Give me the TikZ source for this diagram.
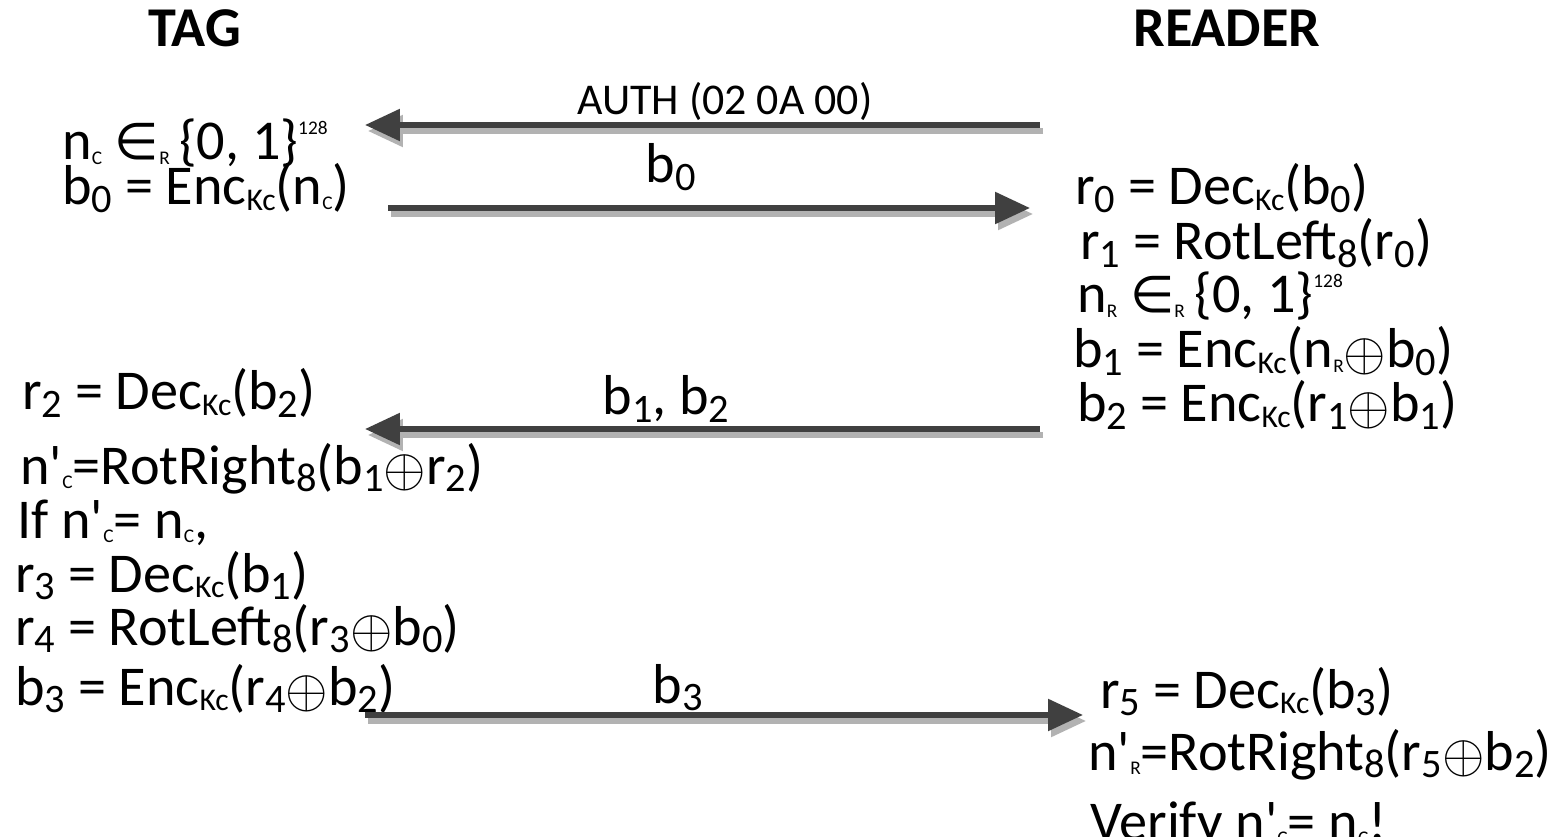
\documentclass[tikz,border=0pt]{standalone}
\usepackage{graphicx}
\usepackage{fontspec}
\setmainfont{Carlito}
\newfontfamily\symf{DejaVu Sans}
\usetikzlibrary{arrows.meta}
\newcommand\ds[1]{\raisebox{-0.14em}{\fontsize{23}{23}\selectfont #1}}
\newcommand\ks{\raisebox{-0.1em}{\fontsize{18}{18}\selectfont Kc}}
\newcommand\ts[1]{\raisebox{-0.08em}{\fontsize{11}{11}\selectfont #1}}
\newcommand\sups{\raisebox{0.45em}{\fontsize{11}{11}\selectfont 128}}
\newcommand\xor{\raisebox{-0.04em}{\fontsize{24.88}{25}\selectfont\scalebox{1.25}{$\oplus$}}}
\newcommand\elem{{\fontsize{29}{29}\symf ∈}}
\newcommand\ap{\textquotesingle}
\begin{document}
\begin{tikzpicture}[x=0.02cm,y=-0.02cm,
  txt/.style={anchor=base west,inner sep=0pt,font=\fontsize{32}{36}\selectfont},
  hd/.style={anchor=base west,inner sep=0pt,font=\fontsize{32}{36}\selectfont\bfseries},
  lbl/.style={anchor=base,inner sep=0pt,font=\fontsize{32}{36}\selectfont},
  msg/.style={line width=3.2pt,draw=black!75,-{Triangle[length=0.7cm,width=0.62cm]}},
  shadow/.style={line width=3.2pt,draw=black!30,-{Triangle[length=0.7cm,width=0.62cm]}}]
\useasboundingbox (0,0) rectangle (1551,837);
% headings
\node[hd] (tag) at (148,47) {TAG};
\node[hd] (reader) at (1133,47) {READER};
% tag side
\node[txt] (t1) at (62,160) {n\ts{C} \elem\ts{R}\,\{0, 1\}\sups};
\node[txt] (t2) at (62,205) {b\ds{0} = Enc\ks(n\ts{C})};
\node[txt] (t3) at (22,410) {r\ds{2} = Dec\ks(b\ds{2})};
\node[txt] (t4) at (20,484) {n\ap\ts{C}=RotRight\ds{8}(b\ds{1}\xor r\ds{2})};
\node[txt] (t5) at (17,538) {If n\ap\ts{C}= n\ts{C},};
\node[txt] (t6) at (15,592) {r\ds{3} = Dec\ks(b\ds{1})};
\node[txt] (t7) at (15,645) {r\ds{4} = RotLeft\ds{8}(r\ds{3}\xor b\ds{0})};
\node[txt] (t8) at (15,705) {b\ds{3} = Enc\ks(r\ds{4}\xor b\ds{2})};
% reader side
\node[txt] (r1) at (1075,205) {r\ds{0} = Dec\ks(b\ds{0})};
\node[txt] (r2) at (1080,260) {r\ds{1} = RotLeft\ds{8}(r\ds{0})};
\node[txt] (r3) at (1077,313) {n\ts{R} \elem\ts{R}\,\{0, 1\}\sups};
\node[txt] (r4) at (1073,368) {b\ds{1} = Enc\ks(n\ts{R}\xor b\ds{0})};
\node[txt] (r5) at (1077,422) {b\ds{2} = Enc\ks(r\ds{1}\xor b\ds{1})};
\node[txt] (r6) at (1100,708) {r\ds{5} = Dec\ks(b\ds{3})};
\node[txt] (r7) at (1088,770) {n\ap\ts{R}=RotRight\ds{8}(r\ds{5}\xor b\ds{2})};
\node[txt] (r8) at (1090,840) {Verify n\ap\ts{C}= n\ts{C}!};
% message endpoints
\coordinate (a1s) at (1040,125); \coordinate (a1e) at (365,125);
\coordinate (a2s) at (388,208);  \coordinate (a2e) at (1030,208);
\coordinate (a3s) at (1040,429); \coordinate (a3e) at (365,429);
\coordinate (a4s) at (365,715);  \coordinate (a4e) at (1083,715);
% shadows
\foreach \s/\e in {a1s/a1e,a2s/a2e,a3s/a3e,a4s/a4e}
  \draw[shadow] ([shift={(3,6)}]\s) -- ([shift={(3,6)}]\e);
% arrows
\draw[msg] (a1s) -- (a1e);
\draw[msg] (a2s) -- (a2e);
\draw[msg] (a3s) -- (a3e);
\draw[msg] (a4s) -- (a4e);
% labels
\node[lbl,font=\fontsize{25}{28}\selectfont] (l1) at (725,115) {AUTH (02 0A 00)};
\node[lbl] (l2) at (671,183) {b\ds{0}};
\node[lbl] (l3) at (666,415) {b\ds{1}, b\ds{2}};
\node[lbl] (l4) at (678,703) {b\ds{3}};
\end{tikzpicture}
\end{document}
